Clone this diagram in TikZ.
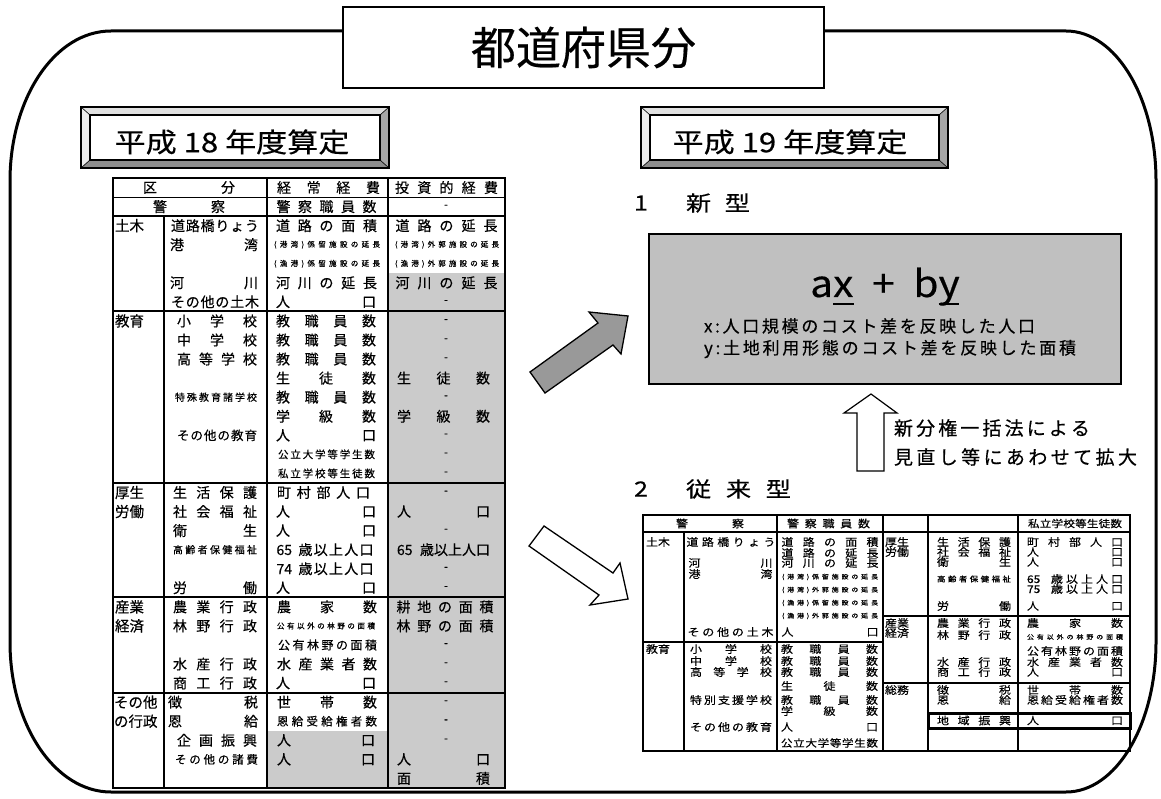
\documentclass[tikz,border=0pt]{standalone}
\usepackage{fontspec}
\usepackage{graphicx}
\setmainfont{Noto Sans CJK JP}[FakeBold=0.4]
\definecolor{tgray}{HTML}{CBCBCB}
\definecolor{fgray}{HTML}{C0C0C0}
\definecolor{agray}{HTML}{999999}
\makeatletter
\def\dist@aux#1#2{#1\ifx\relax#2\expandafter\@gobble\else\hfill\expandafter\dist@aux\fi{#2}}
\newcommand\dist[2]{\makebox[#1][s]{\dist@aux#2\relax}}
\makeatother
\newcommand\fsz[1]{\fontsize{#1pt}{#1pt}\selectfont}
\newcommand\wide[1]{\scalebox{1.2}[1]{#1}}
\newcount\cellno
\newcommand\cellC[5]{\global\advance\cellno by 1\relax\edef\cname{c\the\cellno}\node[tcell] (\cname) at (#1,{#2}) {\fsz{#3}\dist{#4pt}{#5}};}
\newcommand\cellR[5]{\global\advance\cellno by 1\relax\edef\cname{c\the\cellno}\node[tcell] (\cname) at (#1,{#2}) {\fsz{#3}\scalebox{1}[0.88]{\dist{#4pt}{#5}}};}
\newcommand\cellN[4]{\global\advance\cellno by 1\relax\edef\cname{c\the\cellno}\node[tcell] (\cname) at (#1,{#2}) {\fsz{#3}#4};}
\newcommand\cellW[4]{\global\advance\cellno by 1\relax\edef\cname{c\the\cellno}\node[tcell,anchor=west] (\cname) at (#1,{#2}) {\fsz{#3}#4};}
\def\rowc#1{178+(#1+0.5)*19.06}
\def\rowl#1{178+#1*19.06}
\newcommand\bevelbox[4]{%
 \fill[bvtop] (#1,#2) -- (#3,#2) -- ({#3-9},{#2+8}) -- ({#1+9},{#2+8}) -- cycle;
 \fill[bvleft] (#1,#2) -- ({#1+9},{#2+8}) -- ({#1+9},{#4-8}) -- (#1,#4) -- cycle;
 \fill[bvright] (#3,#2) -- (#3,#4) -- ({#3-9},{#4-8}) -- ({#3-9},{#2+8}) -- cycle;
 \fill[bvbot] (#1,#4) -- (#3,#4) -- ({#3-9},{#4-8}) -- ({#1+9},{#4-8}) -- cycle;
 \draw[bvline] (#1,#2) rectangle (#3,#4);
 \draw[bvline] ({#1+9},{#2+8}) rectangle ({#3-9},{#4-8});
 \draw[bvthin] (#1,#2) -- ({#1+9},{#2+8}) (#3,#2) -- ({#3-9},{#2+8}) (#1,#4) -- ({#1+9},{#4-8}) (#3,#4) -- ({#3-9},{#4-8});
}
\begin{document}
\begin{tikzpicture}[x=1pt,y=-1pt,
 tcell/.style={inner sep=0pt,outer sep=0pt},
 outerframe/.style={line width=3pt},
 touter/.style={line width=2.4pt},
 tline/.style={line width=2pt},
 tthin/.style={line width=1pt},
 router/.style={line width=1.8pt},
 rline/.style={line width=1.4pt},
 rbox/.style={line width=3pt},
 bvtop/.style={fill=black!12},
 bvleft/.style={fill=black!8},
 bvright/.style={fill=black!35},
 bvbot/.style={fill=black!45},
 bvline/.style={line width=1.2pt},
 bvthin/.style={line width=0.6pt},
 arrowshape/.style={line width=1.3pt, line join=miter},
]
\fill[white] (0,0) rectangle (1161,799);
\useasboundingbox (0,0) rectangle (1161,799);

% outer frame
\draw[outerframe] (10,181) .. controls (10,98) and (55,31) .. (111,31) -- (1066,31) .. controls (1116,31) and (1156,98) .. (1156,181) -- (1156,642) .. controls (1156,725) and (1116,792) .. (1066,792) -- (111,792) .. controls (55,792) and (10,725) .. (10,642) -- cycle;

% title
\node[draw, line width=1.5pt, fill=white, minimum width=481pt, minimum height=81pt, inner sep=0pt] (title) at (583.5,47.5) {\fsz{45}都道府県分};

% bevel headers
\bevelbox{81}{107}{389}{168}
\bevelbox{641}{107}{948}{168}
\node[tcell] (h18) at (232,142) {\fsz{27}\scalebox{1.15}[1]{平成 18 年度算定}};
\node[tcell] (h19) at (790,142) {\fsz{27}\scalebox{1.15}[1]{平成 19 年度算定}};

% ================= left table =================
\fill[tgray] (388,{\rowl{5}}) rectangle (505,{\rowl{32}});
\fill[tgray] (267,{\rowl{29}}) rectangle (388,{\rowl{32}});
\draw[tthin] (113,{\rowl{1}}) -- (505,{\rowl{1}});
\foreach \k in {2,7,16,22,27} \draw[tline] (113,{\rowl{\k}}) -- (505,{\rowl{\k}});
\draw[tline] (164,{\rowl{2}}) -- (164,{\rowl{32}});
\draw[tline] (267,178) -- (267,{\rowl{32}});
\draw[tline] (388,178) -- (388,{\rowl{32}});
\draw[touter] (113,178) rectangle (505,{\rowl{32}});

\cellC{189}{\rowc{0}}{14}{92}{区分}
\cellC{328.5}{\rowc{0}}{14}{103}{経常経費}
\cellC{446.5}{\rowc{0}}{14}{103}{投資的経費}
\cellC{189}{\rowc{1}}{14}{72}{警察}
\cellC{326.5}{\rowc{1}}{14}{100}{警察職員数}
\cellN{446}{\rowc{1}}{11}{-}
% doboku
\cellW{115}{\rowc{2}}{14.5}{土木}
\cellC{215}{\rowc{2}}{14}{88}{道路橋りょう}
\cellC{326.5}{\rowc{2}}{14}{101}{道路の面積}
\cellC{446.5}{\rowc{2}}{14}{102}{道路の延長}
\cellC{214}{\rowc{3}}{14}{88}{港湾}
\cellC{327}{\rowc{3}}{7.5}{106}{(港湾)係留施設の延長}
\cellC{447}{\rowc{3}}{7.5}{104}{(港湾)外郭施設の延長}
\cellC{327}{\rowc{4}}{7.5}{106}{(漁港)係留施設の延長}
\cellC{447}{\rowc{4}}{7.5}{104}{(漁港)外郭施設の延長}
\cellC{214}{\rowc{5}}{14}{88}{河川}
\cellC{326.5}{\rowc{5}}{14}{101}{河川の延長}
\cellC{446.5}{\rowc{5}}{14}{102}{河川の延長}
\cellC{215}{\rowc{6}}{14}{88}{その他の土木}
\cellC{326}{\rowc{6}}{14}{100}{人口}
\cellN{446}{\rowc{6}}{11}{-}
% kyoiku
\cellW{115}{\rowc{7}}{14.5}{教育}
\cellC{217}{\rowc{7}}{14}{80}{小学校}
\cellC{326}{\rowc{7}}{14}{100}{教職員数}
\cellN{446}{\rowc{7}}{11}{-}
\cellC{217}{\rowc{8}}{14}{80}{中学校}
\cellC{326}{\rowc{8}}{14}{100}{教職員数}
\cellN{446}{\rowc{8}}{11}{-}
\cellC{217}{\rowc{9}}{14}{80}{高等学校}
\cellC{326}{\rowc{9}}{14}{100}{教職員数}
\cellN{446}{\rowc{9}}{11}{-}
\cellC{326}{\rowc{10}}{14}{100}{生徒数}
\cellC{443.5}{\rowc{10}}{14}{93}{生徒数}
\cellC{216}{\rowc{11}}{10}{82}{特殊教育諸学校}
\cellC{326}{\rowc{11}}{14}{100}{教職員数}
\cellN{446}{\rowc{11}}{11}{-}
\cellC{326}{\rowc{12}}{14}{100}{学級数}
\cellC{443.5}{\rowc{12}}{14}{93}{学級数}
\cellC{217}{\rowc{13}}{12.5}{80}{その他の教育}
\cellC{326}{\rowc{13}}{14}{100}{人口}
\cellN{446}{\rowc{13}}{11}{-}
\cellC{326.5}{\rowc{14}}{10.5}{97}{公立大学等学生数}
\cellN{446}{\rowc{14}}{11}{-}
\cellC{326.5}{\rowc{15}}{10.5}{97}{私立学校等生徒数}
\cellN{446}{\rowc{15}}{11}{-}
% kosei
\cellW{115}{\rowc{16}}{14.5}{厚生}
\cellW{115}{\rowc{17}}{14.5}{労働}
\cellC{215}{\rowc{16}}{14}{84}{生活保護}
\cellC{323.5}{\rowc{16}}{14}{93}{町村部人口}
\cellN{446}{\rowc{16}}{11}{-}
\cellC{215}{\rowc{17}}{14}{84}{社会福祉}
\cellC{326}{\rowc{17}}{14}{100}{人口}
\cellC{443.5}{\rowc{17}}{14}{93}{人口}
\cellC{215}{\rowc{18}}{14}{84}{衛生}
\cellC{326}{\rowc{18}}{14}{100}{人口}
\cellN{446}{\rowc{18}}{11}{-}
\cellC{215}{\rowc{19}}{10}{84}{高齢者保健福祉}
\cellN{325}{\rowc{19}}{14}{\makebox[97pt][s]{65\hfill\dist{75pt}{歳以上人口}}}
\cellN{443.5}{\rowc{19}}{14}{\makebox[93pt][s]{65\hfill 歳以上人口}}
\cellN{325}{\rowc{20}}{14}{\makebox[97pt][s]{74\hfill\dist{75pt}{歳以上人口}}}
\cellN{446}{\rowc{20}}{11}{-}
\cellC{215}{\rowc{21}}{14}{84}{労働}
\cellC{326}{\rowc{21}}{14}{100}{人口}
\cellN{446}{\rowc{21}}{11}{-}
% sangyo
\cellW{115}{\rowc{22}}{14.5}{産業}
\cellW{115}{\rowc{23}}{14.5}{経済}
\cellC{215}{\rowc{22}}{14}{84}{農業行政}
\cellC{327}{\rowc{22}}{14}{100}{農家数}
\cellC{445}{\rowc{22}}{14}{97}{耕地の面積}
\cellC{215}{\rowc{23}}{14}{84}{林野行政}
\cellC{326}{\rowc{23}}{7.5}{98}{公有以外の林野の面積}
\cellC{445}{\rowc{23}}{14}{97}{林野の面積}
\cellC{327.5}{\rowc{24}}{12}{99}{公有林野の面積}
\cellN{446}{\rowc{24}}{11}{-}
\cellC{215}{\rowc{25}}{14}{84}{水産行政}
\cellC{327}{\rowc{25}}{14}{100}{水産業者数}
\cellN{446}{\rowc{25}}{11}{-}
\cellC{215}{\rowc{26}}{14}{84}{商工行政}
\cellC{326}{\rowc{26}}{14}{100}{人口}
\cellN{446}{\rowc{26}}{11}{-}
% sonota
\cellW{114}{\rowc{27}}{14.5}{その他}
\cellW{114}{\rowc{28}}{14.5}{の行政}
\cellC{213}{\rowc{27}}{14}{90}{徴税}
\cellC{327}{\rowc{27}}{14}{100}{世帯数}
\cellN{446}{\rowc{27}}{11}{-}
\cellC{213}{\rowc{28}}{14}{90}{恩給}
\cellC{327}{\rowc{28}}{11.5}{100}{恩給受給権者数}
\cellN{446}{\rowc{28}}{11}{-}
\cellC{217}{\rowc{29}}{14}{80}{企画振興}
\cellC{326}{\rowc{29}}{14}{98}{人口}
\cellN{446}{\rowc{29}}{11}{-}
\cellC{216.5}{\rowc{30}}{11.5}{83}{その他の諸費}
\cellC{326}{\rowc{30}}{14}{98}{人口}
\cellC{443.5}{\rowc{30}}{14}{93}{人口}
\cellC{443.5}{\rowc{31}}{14}{93}{面積}

% ================= arrows =================
\draw[arrowshape, fill=agray] (530,372) -- (598,323) -- (589,312) -- (628,316) -- (621,354) -- (613,345) -- (545,393) -- cycle;
\draw[arrowshape, fill=white] (544,526) -- (613,573) -- (620,563) -- (628,599) -- (590,605) -- (599,595) -- (529,546) -- cycle;

% ================= new type =================
\node[tcell] (n1) at (641,203) {\fsz{21}\wide{1}};
\node[tcell] (n1t) at (718,203) {\fsz{21}\makebox[64pt][s]{\wide{新}\hfill\wide{型}}};
\node[draw, line width=1.3pt, fill=fgray, minimum width=472pt, minimum height=150pt, inner sep=0pt] (fbox) at (885,309) {};
\node[tcell, anchor=base] (formula) at (885,297) {\fsz{37}\scalebox{1.1}[1]{a\rlap{\rule[-8pt]{19pt}{2pt}}x\hspace{17pt}+\hspace{17pt}b\rlap{\rule[-8pt]{19pt}{2pt}}y}};
\node[tcell, anchor=west] (fx) at (704,326) {\fsz{17}\dist{331pt}{x:人口規模のコスト差を反映した人口}};
\node[tcell, anchor=west] (fy) at (704,349) {\fsz{17}\dist{372pt}{y:土地利用形態のコスト差を反映した面積}};

% up arrow
\draw[arrowshape, line width=1.2pt, fill=white] (871,394) -- (897,413) -- (884,413) -- (884,471) -- (857,471) -- (857,413) -- (844,413) -- cycle;
\node[tcell, anchor=west] (up1) at (894,428) {\fsz{19}\dist{196pt}{新分権一括法による}};
\node[tcell, anchor=west] (up2) at (894,457) {\fsz{19}\dist{243pt}{見直し等にあわせて拡大}};

% ================= old type =================
\node[tcell] (n2) at (641,489) {\fsz{21}\wide{2}};
\node[tcell] (n2t) at (738.5,489) {\fsz{21}\makebox[105pt][s]{\wide{従}\hfill\wide{来}\hfill\wide{型}}};

% right table lines
\draw[rline] (643,532) -- (1130,532);
\draw[rline] (684,532) -- (684,751);
\draw[rline] (777,515) -- (777,751);
\draw[rline] (883,515) -- (883,751);
\draw[rline] (928,515) -- (928,751);
\draw[rline] (1018,515) -- (1018,751);
\draw[rline] (643,642) -- (883,642);
\draw[rline] (883,616) -- (1130,616);
\draw[rline] (883,683) -- (1130,683);
\draw[router] (643,515) rectangle (1130,751);
\draw[rbox] (928,713) rectangle (1130,728);

\cellR{710}{523.5}{12}{68}{警察}
\cellR{828.5}{523.5}{12}{83}{警察職員数}
\cellR{1075}{523.5}{11.5}{94}{私立学校等生徒数}
% doboku
\cellW{646}{542}{12}{\scalebox{1}[0.88]{土木}}
\cellR{731}{542}{12}{89}{道路橋りょう}
\cellR{830}{542}{12}{97}{道路の面積}
\cellR{830}{553}{12}{97}{道路の延長}
\cellR{730.5}{563}{12}{84}{河川}
\cellR{830}{563}{12}{97}{河川の延長}
\cellR{730.5}{574}{12}{84}{港湾}
\cellR{830}{577}{7}{96}{(港湾)係留施設の延長}
\cellR{830}{590}{7}{96}{(港湾)外郭施設の延長}
\cellR{830}{603}{7}{96}{(漁港)係留施設の延長}
\cellR{830}{616}{7}{96}{(漁港)外郭施設の延長}
\cellR{730.5}{632}{12}{86}{その他の土木}
\cellR{830}{632}{12}{97}{人口}
% kyoiku
\cellW{646}{649}{12}{\scalebox{1}[0.88]{教育}}
\cellR{731}{649}{12}{82}{小学校}
\cellR{829.5}{649}{12}{97}{教職員数}
\cellR{731}{661}{12}{82}{中学校}
\cellR{829.5}{661}{12}{97}{教職員数}
\cellR{731}{672}{12}{82}{高等学校}
\cellR{829.5}{672}{12}{97}{教職員数}
\cellR{829.5}{686}{12}{97}{生徒数}
\cellR{731}{700}{12}{82}{特別支援学校}
\cellR{829.5}{700}{12}{97}{教職員数}
\cellR{829.5}{711}{12}{97}{学級数}
\cellR{731}{727}{12}{82}{その他の教育}
\cellR{829.5}{727}{12}{97}{人口}
\cellR{829.5}{743}{11.5}{97}{公立大学等学生数}
% right half
\cellW{885}{542}{12}{\scalebox{1}[0.88]{厚生}}
\cellW{885}{552}{12}{\scalebox{1}[0.88]{労働}}
\cellR{974}{542}{12}{74}{生活保護}
\cellR{1075}{542}{12}{96}{町村部人口}
\cellR{974}{552}{12}{74}{社会福祉}
\cellR{1075}{552}{12}{96}{人口}
\cellR{974}{562}{12}{74}{衛生}
\cellR{1075}{562}{12}{96}{人口}
\cellR{974}{579}{8.5}{74}{高齢者保健福祉}
\cellN{1075}{579}{12}{\scalebox{1}[0.88]{\makebox[96pt][s]{65\hfill\dist{72pt}{歳以上人口}}}}
\cellN{1075}{589}{12}{\scalebox{1}[0.88]{\makebox[96pt][s]{75\hfill\dist{72pt}{歳以上人口}}}}
\cellR{974}{606}{12}{74}{労働}
\cellR{1075}{606}{12}{96}{人口}
\cellW{885}{623}{12}{\scalebox{1}[0.88]{産業}}
\cellW{885}{633}{12}{\scalebox{1}[0.88]{経済}}
\cellR{974}{623}{12}{74}{農業行政}
\cellR{1075}{623}{12}{96}{農家数}
\cellR{974}{635}{12}{74}{林野行政}
\cellR{1075}{637}{7}{96}{公有以外の林野の面積}
\cellR{1075}{651}{12}{96}{公有林野の面積}
\cellR{974}{662}{12}{74}{水産行政}
\cellR{1075}{662}{12}{96}{水産業者数}
\cellR{974}{672}{12}{74}{商工行政}
\cellR{1075}{672}{12}{96}{人口}
\cellW{885}{690}{12}{\scalebox{1}[0.88]{総務}}
\cellR{974}{690}{12}{74}{徴税}
\cellR{1075}{690}{12}{96}{世帯数}
\cellR{974}{700}{12}{74}{恩給}
\cellR{1075}{700}{12}{96}{恩給受給権者数}
\cellR{974}{720.5}{12}{74}{地域振興}
\cellR{1075}{720.5}{12}{96}{人口}
\end{tikzpicture}
\end{document}
